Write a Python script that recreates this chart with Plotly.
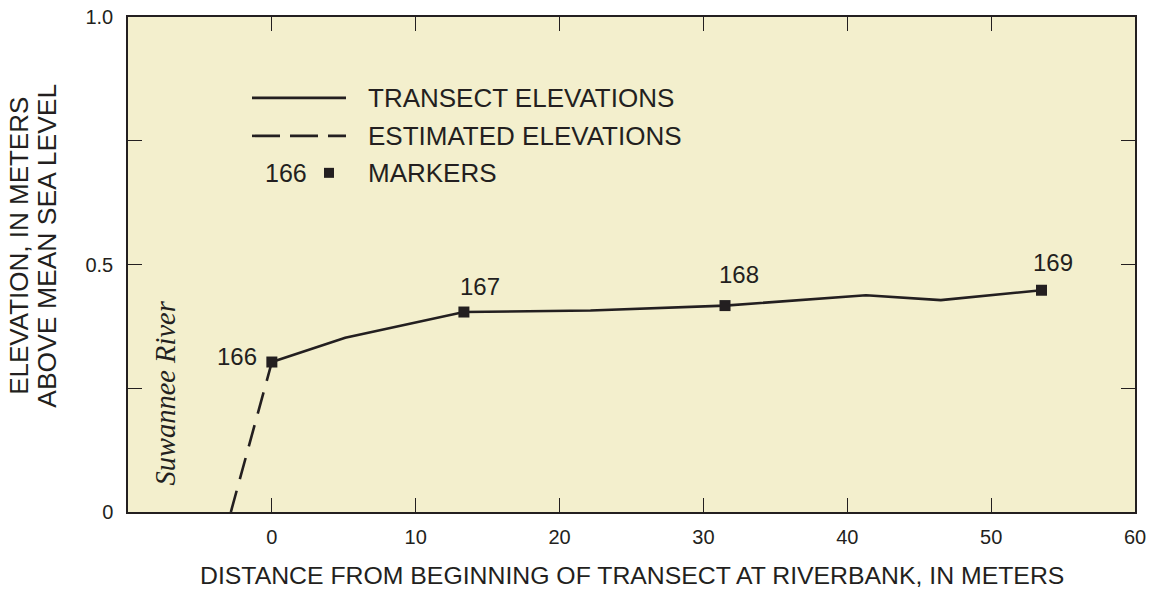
import plotly.graph_objects as go

# ---- data ----
transect_x = [0, 5.1, 13.35, 22.15, 31.5, 41.3, 46.5, 53.5]
transect_y = [0.303, 0.352, 0.404, 0.407, 0.417, 0.438, 0.428, 0.448]

estimated_x = [-2.85, 0]
estimated_y = [0.0, 0.303]

marker_x = [0, 13.35, 31.5, 53.5]
marker_y = [0.303, 0.404, 0.417, 0.448]
marker_labels = ["166", "167", "168", "169"]

x_tickvals = [0, 10, 20, 30, 40, 50, 60]
y_tickvals = [0, 0.25, 0.5, 0.75, 1.0]
y_ticktext = ["0", "", "0.5", "", "1.0"]

INK = "#231F20"
BG = "#F3EFCD"
FONT = "Liberation Sans, Arial, sans-serif"

# plot-area placement in page pixels
L, R, T, B = 128, 1135, 17, 512.5
W, H = 1151, 589

fig = go.Figure()

fig.add_trace(go.Scatter(x=estimated_x, y=estimated_y, mode="lines",
                         line=dict(color=INK, width=2.6, dash="22px,12px"),
                         showlegend=False, hoverinfo="skip"))
fig.add_trace(go.Scatter(x=transect_x, y=transect_y, mode="lines",
                         line=dict(color=INK, width=2.6),
                         showlegend=False, hoverinfo="skip"))
fig.add_trace(go.Scatter(x=marker_x, y=marker_y, mode="markers",
                         marker=dict(symbol="square", size=11, color=INK),
                         showlegend=False, hoverinfo="skip"))

# marker labels
offsets = [(-35, 6), (16, 26), (14, 31), (12, 28)]
for xv, yv, lab, (dx, dy) in zip(marker_x, marker_y, marker_labels, offsets):
    fig.add_annotation(x=xv, y=yv, text=lab, showarrow=False,
                       xshift=dx, yshift=dy,
                       font=dict(family=FONT, size=24, color=INK))

# ---- legend drawn by hand ----
def px_x(p):
    return (p - L) / (R - L)

def px_y(p):
    return (B - p) / (B - T)

fig.add_shape(type="line", xref="paper", yref="paper",
              x0=px_x(252), x1=px_x(346), y0=px_y(98), y1=px_y(98),
              line=dict(color=INK, width=2.6))
fig.add_shape(type="line", xref="paper", yref="paper",
              x0=px_x(252), x1=px_x(346), y0=px_y(136), y1=px_y(136),
              line=dict(color=INK, width=2.6, dash="28px,10px"))
fig.add_shape(type="rect", xref="paper", yref="paper",
              xsizemode="pixel", ysizemode="pixel",
              xanchor=px_x(329), yanchor=px_y(173),
              x0=-5, x1=5, y0=-5, y1=5,
              fillcolor=INK, line=dict(width=0))

legend_items = [("TRANSECT ELEVATIONS", 98), ("ESTIMATED ELEVATIONS", 136), ("MARKERS", 173)]
for txt, py in legend_items:
    fig.add_annotation(xref="paper", yref="paper", x=px_x(366), y=px_y(py),
                       text=txt, showarrow=False, xanchor="left", yanchor="middle",
                       font=dict(family=FONT, size=26, color=INK))
fig.add_annotation(xref="paper", yref="paper", x=px_x(309), y=px_y(173),
                   text="166", showarrow=False, xanchor="right", yanchor="middle",
                   font=dict(family=FONT, size=25, color=INK))

# river label
fig.add_annotation(xref="paper", yref="paper", x=px_x(166), y=px_y(394),
                   text="<i>Suwannee River</i>", showarrow=False, textangle=-90,
                   xanchor="center", yanchor="middle",
                   font=dict(family="Liberation Serif, Times New Roman, serif", size=28.5, color=INK))

# axis titles
fig.add_annotation(xref="paper", yref="paper", x=px_x(632), y=px_y(576),
                   text="DISTANCE FROM BEGINNING OF TRANSECT AT RIVERBANK, IN METERS",
                   showarrow=False, xanchor="center", yanchor="middle",
                   font=dict(family=FONT, size=24.8, color=INK))
fig.add_annotation(xref="paper", yref="paper", x=px_x(19), y=px_y(246),
                   text="ELEVATION, IN METERS", showarrow=False, textangle=-90,
                   xanchor="center", yanchor="middle",
                   font=dict(family=FONT, size=26, color=INK))
fig.add_annotation(xref="paper", yref="paper", x=px_x(47), y=px_y(246),
                   text="ABOVE MEAN SEA LEVEL", showarrow=False, textangle=-90,
                   xanchor="center", yanchor="middle",
                   font=dict(family=FONT, size=26.5, color=INK))

fig.update_xaxes(range=[-10, 60], tickvals=x_tickvals, ticks="inside", ticklen=14,
                 tickwidth=1.2, tickcolor=INK, mirror="ticks", showline=True,
                 linecolor=INK, linewidth=1.5, showgrid=False, zeroline=False,
                 ticklabelstandoff=6, automargin=False,
                 tickfont=dict(family=FONT, size=20, color=INK))
fig.update_yaxes(range=[0, 1.0], tickvals=y_tickvals, ticktext=y_ticktext,
                 ticks="inside", ticklen=14, tickwidth=1.2, tickcolor=INK,
                 mirror="ticks", showline=True, linecolor=INK, linewidth=1.5,
                 showgrid=False, zeroline=False, ticklabelstandoff=9, automargin=False,
                 tickfont=dict(family=FONT, size=20, color=INK))

fig.update_layout(width=W, height=H, autosize=False,
                  margin=dict(l=L, r=W - R, t=T, b=H - B, pad=0),
                  paper_bgcolor="white", plot_bgcolor=BG,
                  showlegend=False)

fig.write_html("out.html", config={"displayModeBar": False},
               post_script="document.body.style.margin='0';document.body.style.overflow='hidden';")
